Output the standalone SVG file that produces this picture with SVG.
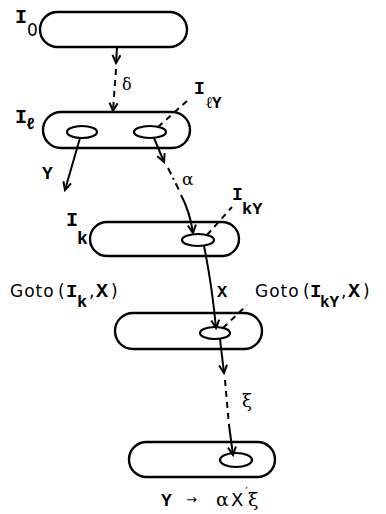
<svg xmlns="http://www.w3.org/2000/svg" width="386" height="514" viewBox="0 0 386 514">
<defs>
<marker id="arr" markerUnits="userSpaceOnUse" markerWidth="12" markerHeight="12" refX="9" refY="5" orient="auto">
<path d="M1,1 L9,5 L1,9" fill="none" stroke="#000" stroke-width="2"/>
</marker>
<style>
.box{fill:#fff;stroke:#000;stroke-width:2.4}
.ov{fill:#fff;stroke:#000;stroke-width:2.2}
.ln{fill:none;stroke:#000;stroke-width:2}
.da{fill:none;stroke:#000;stroke-width:2;stroke-dasharray:6 5}
.dd{fill:none;stroke:#000;stroke-width:2;stroke-dasharray:7 4 2 4}
.m{font-family:"Liberation Mono","DejaVu Sans Mono",monospace;font-weight:bold;fill:#000}
.s{font-family:"DejaVu Sans","Liberation Sans",sans-serif;fill:#000}
.g{font-family:"DejaVu Serif","Liberation Serif",serif;fill:#000}
</style>
</defs>
<rect width="386" height="514" fill="#fff"/>
<g id="I0">
<rect class="box" x="40" y="12" width="147" height="35" rx="17.5"/>
<text class="m" x="15" y="23" font-size="20">I</text>
<text class="s" x="27" y="36" font-size="17">0</text>
</g>
<g id="Il">
<rect class="box" x="43" y="112" width="147" height="36" rx="18"/>
<ellipse class="ov" cx="82" cy="132" rx="15" ry="6"/>
<ellipse class="ov" cx="150" cy="132" rx="16" ry="6"/>
<text class="m" x="15" y="123" font-size="20">I</text>
<text class="m" x="26" y="129" font-size="16" font-family="DejaVu Sans Mono">ℓ</text>
<text class="m" x="194" y="94" font-size="18">I</text>
<text class="m" x="206" y="108" font-size="16"><tspan font-family="DejaVu Sans Mono">ℓ</tspan>Y</text>
<text class="m" x="42" y="179" font-size="18">Y</text>
</g>
<g id="Ik">
<rect class="box" x="90" y="222" width="149" height="34" rx="17"/>
<ellipse class="ov" cx="198" cy="240" rx="16" ry="6"/>
<text class="m" x="66" y="226" font-size="20">I</text>
<text class="m" x="77" y="244" font-size="18">k</text>
<text class="m" x="232" y="200" font-size="18">I</text>
<text class="m" x="242" y="214" font-size="17">kY</text>
</g>
<g id="Goto">
<rect class="box" x="115" y="313" width="147" height="36" rx="18"/>
<ellipse class="ov" cx="215" cy="333" rx="15" ry="6"/>
<text class="s" y="297" font-size="17"><tspan x="10" letter-spacing="1">Goto</tspan><tspan x="58">(</tspan><tspan class="m" x="66" font-size="19">I</tspan><tspan class="m" x="77" y="307" font-size="17">k</tspan><tspan x="89" y="297">,</tspan><tspan class="m" x="96" font-size="20">X</tspan><tspan x="111">)</tspan></text>
<text class="s" y="297" font-size="17"><tspan x="255" letter-spacing="1">Goto</tspan><tspan x="303">(</tspan><tspan class="m" x="310" font-size="19">I</tspan><tspan class="m" x="320" y="307" font-size="16">kY</tspan><tspan x="341" y="297">,</tspan><tspan class="m" x="348" font-size="20">X</tspan><tspan x="363">)</tspan></text>
</g>
<g id="Final">
<rect class="box" x="129" y="442" width="146" height="35" rx="17.5"/>
<ellipse class="ov" cx="236" cy="460" rx="16" ry="7"/>
<text class="m" x="161" y="506" font-size="18">Y</text>
<text class="s" x="186" y="504" font-size="13">→</text>
<text class="g" x="216" y="506" font-size="19">α</text>
<text class="s" x="231" y="506" font-size="18">X</text>
<text class="g" x="243" y="496" font-size="11">´</text>
<text class="g" x="248" y="506" font-size="19">ξ</text>
</g>
<g id="connectors">
<path class="ln" d="M117,47 L116,63" marker-end="url(#arr)"/>
<path class="da" d="M116,69 L113,111" marker-end="url(#arr)"/>
<path class="ln" d="M80,138 L65,190" marker-end="url(#arr)"/>
<path class="ln" d="M154,138 L164,162" marker-end="url(#arr)"/>
<path class="dd" d="M168,168 L180,192"/>
<path class="ln" d="M181,195 Q190,212 193,233" marker-end="url(#arr)"/>
<path class="ln" d="M204,246 Q212,285 216,328" marker-end="url(#arr)"/>
<path class="ln" d="M220,339 L224,373" marker-end="url(#arr)"/>
<path class="da" d="M225,380 L229,425"/>
<path class="ln" d="M229,425 L233,455" marker-end="url(#arr)"/>
<path class="da" d="M158,127 L188,100"/>
<path class="da" d="M207,235 L232,207"/>
<path class="da" d="M223,328 L247,305"/>
</g>
<g id="labels">
<text class="g" x="122" y="90" font-size="16">δ</text>
<text class="g" x="182" y="185" font-size="17">α</text>
<text class="m" x="217" y="297" font-size="17">X</text>
<text class="g" x="242" y="407" font-size="18">ξ</text>
</g>
</svg>
